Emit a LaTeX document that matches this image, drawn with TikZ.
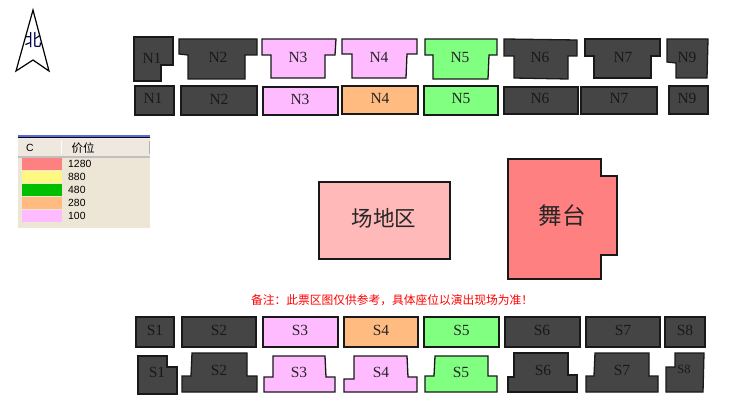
\documentclass[tikz,border=0pt]{standalone}
\usepackage{fontspec}
\setmainfont{Liberation Serif}
\newfontfamily\legfont{Liberation Sans}
\newfontfamily\cjk{Noto Sans CJK SC}
\definecolor{seatgrey}{HTML}{454545}
\definecolor{seatpink}{HTML}{FFBBFF}
\definecolor{seatgreen}{HTML}{80FF80}
\definecolor{seatorange}{HTML}{FFBB80}
\definecolor{fieldpink}{HTML}{FFB9B9}
\definecolor{stagered}{HTML}{FF8080}
\definecolor{legendbg}{HTML}{EDE6D6}
\definecolor{legendhead}{HTML}{EFE8DF}
\definecolor{legendblue}{HTML}{5A6FC8}
\tikzset{
  seat/.style={draw=black!90,line width=1.3pt,line join=miter},
  grey/.style={seat,fill=seatgrey},
  pink/.style={seat,fill=seatpink},
  green/.style={seat,fill=seatgreen},
  orange/.style={seat,fill=seatorange},
  lab/.style={font=\fontsize{15.5}{16}\selectfont,text=black!85,inner sep=0pt},
  glab/.style={lab,text=black!90},
  swatch/.style={draw=none},
  legtext/.style={font=\legfont\fontsize{10.4}{11}\selectfont,text=black,anchor=west,inner sep=0pt},
}
\begin{document}
\begin{tikzpicture}[x=1pt,y=-1pt]
\useasboundingbox (0,0) rectangle (731,412);
\fill[white] (0,0) rectangle (731,412);
% north arrow
\node[inner sep=0pt,text=black!70!blue] (north) at (33,40) {\cjk\fontsize{17}{17}\selectfont 北};
\draw[line width=1.2pt,line join=miter] (33,10) -- (16,71) -- (33,60) -- (49,71) -- cycle;
% north upper row
\draw[grey] (134,37)--(173,37)--(173,65)--(161,65)--(161,81)--(134,81)--cycle;
\draw[grey] (179,39)--(257,39)--(257,55)--(245,55)--(245,79)--(188,79)--(188,55)--(179,54)--cycle;
\draw[pink] (262,39)--(336,39)--(335,55)--(325,55)--(325,78)--(271,78)--(271,55)--(262,55)--cycle;
\draw[pink] (342,39)--(417,39)--(417,54)--(407,54)--(406,78)--(352,78)--(352,54)--(342,54)--cycle;
\draw[green] (425,39)--(497,39)--(497,55)--(489,55)--(488,79)--(433,79)--(433,55)--(425,55)--cycle;
\draw[grey] (504,39)--(577,40)--(577,56)--(568,56)--(568,79)--(514,78)--(514,56)--(504,56)--cycle;
\draw[grey] (585,39)--(660,39)--(660,56)--(651,56)--(651,78)--(594,78)--(594,56)--(585,56)--cycle;
\draw[grey] (667,39)--(708,39)--(707,78)--(676,78)--(676,63)--(667,62)--cycle;
\node[glab] (n1u) at (152,58) {N1};
\node[glab] (n2u) at (218,57) {N2};
\node[lab] (n3u) at (298,57) {N3};
\node[lab] (n4u) at (379,57) {N4};
\node[lab] (n5u) at (460,58) {N5};
\node[glab] (n6u) at (540,57) {N6};
\node[glab] (n7u) at (623,57) {N7};
\node[glab] (n9u) at (687,57) {N9};
% north lower row
\draw[grey] (135,86) rectangle (174,115);
\draw[grey] (181,86) rectangle (257,115);
\draw[pink] (263,87) rectangle (338,115);
\draw[orange] (342,86) rectangle (418,114);
\draw[green] (424,86) rectangle (498,115);
\draw[grey] (504,87) rectangle (578,114);
\draw[grey] (581,87) rectangle (657,114);
\draw[grey] (669,86) rectangle (708,114);
\node[glab] (n1l) at (153,98) {N1};
\node[glab] (n2l) at (219,99) {N2};
\node[lab] (n3l) at (300,99) {N3};
\node[lab] (n4l) at (380,98) {N4};
\node[lab] (n5l) at (461,99) {N5};
\node[glab] (n6l) at (540,98) {N6};
\node[glab] (n7l) at (619,98) {N7};
\node[glab] (n9l) at (687,98) {N9};
% legend
\fill[legendbg] (18,135) rectangle (150,228);
\fill[legendhead] (18,137.5) rectangle (150,156);
\fill[legendblue] (18,135) rectangle (150,137);
\fill[black!80!blue] (18,137) rectangle (150,138);
\fill[black!25] (18,156) rectangle (150,157.5);
\fill[white] (60.5,141) rectangle (61.5,154);
\fill[black!30] (149,141) rectangle (150,154);
\fill[stagered,swatch] (22,158) rectangle (62,170);
\fill[yellow!50!white,swatch] (22,171) rectangle (62,183);
\fill[green!75!black,swatch] (22,184) rectangle (62,196);
\fill[seatorange,swatch] (22,197) rectangle (62,209);
\fill[seatpink,swatch] (22,210) rectangle (62,222);
\node[legtext] (hc) at (26,148) {C};
\node[inner sep=0pt] (hp) at (83,148) {\cjk\fontsize{11.5}{12}\selectfont 价位};
\node[legtext] (p1) at (68,164) {1280};
\node[legtext] (p2) at (68,177) {880};
\node[legtext] (p3) at (68,190) {480};
\node[legtext] (p4) at (68,203) {280};
\node[legtext] (p5) at (68,216) {100};
% field and stage
\draw[seat,fill=fieldpink] (319,182) rectangle (450,259);
\node[inner sep=0pt,text=black!85] (field) at (384,218) {\cjk\fontsize{21.5}{22}\selectfont 场地区};
\draw[seat,fill=stagered] (508,159)--(601,159)--(601,176)--(617,176)--(617,255)--(601,255)--(601,279)--(508,279)--cycle;
\node[inner sep=0pt,text=black!85] (stage) at (562,216) {\cjk\fontsize{23.5}{24}\selectfont 舞台};
% note (full-width colon, comma and exclamation mark)
\node[inner sep=0pt,text=red] (note) at (392,300) {\cjk\fontsize{11.75}{12}\selectfont 备注\char"FF1A 此票区图仅供参考\char"FF0C 具体座位以演出现场为准\char"FF01};
% south upper row
\draw[grey] (136,317) rectangle (174,347);
\draw[grey] (182,317) rectangle (256,347);
\draw[pink] (263,317) rectangle (338,347);
\draw[orange] (344,317) rectangle (418,347);
\draw[green] (424,317) rectangle (499,347);
\draw[grey] (505,317) rectangle (580,347);
\draw[grey] (586,317) rectangle (660,347);
\draw[grey] (665,317) rectangle (705,347);
\node[glab] (s1u) at (155,330) {S1};
\node[glab] (s2u) at (219,330) {S2};
\node[lab] (s3u) at (300,330) {S3};
\node[lab] (s4u) at (381,330) {S4};
\node[lab] (s5u) at (461.5,330) {S5};
\node[glab] (s6u) at (542,330) {S6};
\node[glab] (s7u) at (623,330) {S7};
\node[glab] (s8u) at (685,330) {S8};
% south lower row
\draw[grey] (138,356)--(167,356)--(167,367)--(177,367)--(177,394)--(138,394)--cycle;
\draw[grey] (192,353)--(247,353)--(247,376)--(257,376)--(257,392)--(182,392)--(182,376)--(191,376)--cycle;
\draw[pink] (273,356)--(325,356)--(326,377)--(335,377)--(335,392)--(264,392)--(264,377)--(273,377)--cycle;
\draw[pink] (354,356)--(407,356)--(408,377)--(417,377)--(417,392)--(344,392)--(344,379)--(354,379)--cycle;
\draw[green] (435,356)--(488,356)--(488,376)--(497,376)--(497,392)--(425,392)--(425,376)--(434,376)--cycle;
\draw[grey] (514,353)--(568,353)--(568,375)--(577,375)--(577,392)--(508,392)--(508,377)--(514,377)--cycle;
\draw[grey] (595,353)--(649,353)--(649,376)--(658,376)--(658,392)--(586,392)--(586,376)--(594,376)--cycle;
\draw[grey] (675,353)--(704,353)--(703,392)--(666,392)--(666,367)--(675,367)--cycle;
\node[glab] (s1l) at (157,372) {S1};
\node[glab] (s2l) at (219,370) {S2};
\node[lab] (s3l) at (299,372) {S3};
\node[lab] (s4l) at (381,372) {S4};
\node[lab] (s5l) at (461,372) {S5};
\node[glab] (s6l) at (543,370) {S6};
\node[glab] (s7l) at (622,370) {S7};
\node[glab,font=\fontsize{12.5}{13}\selectfont] (s8l) at (684,369) {S8};
\end{tikzpicture}
\end{document}
